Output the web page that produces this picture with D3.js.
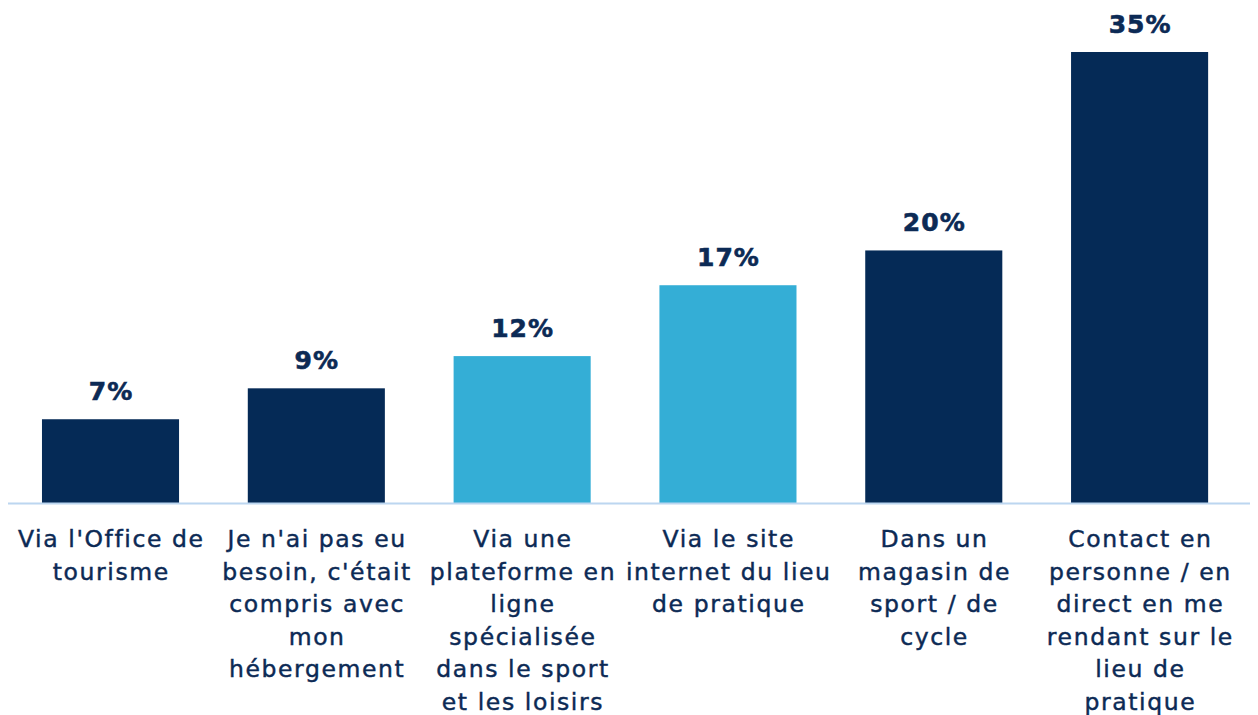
<!DOCTYPE html>
<html><head><meta charset="utf-8">
<script src="https://cdn.jsdelivr.net/npm/d3@7"></script>
<style>body{margin:0;background:#fff}svg{display:block}</style>
</head><body>
<svg id="c" width="1258" height="715"></svg>
<script>
const categories = [
  ["Via l'Office de","tourisme"],
  ["Je n'ai pas eu","besoin, c'était","compris avec","mon","hébergement"],
  ["Via une","plateforme en","ligne","spécialisée","dans le sport","et les loisirs"],
  ["Via le site","internet du lieu","de pratique"],
  ["Dans un","magasin de","sport / de","cycle"],
  ["Contact en","personne / en","direct en me","rendant sur le","lieu de","pratique"]
];
const values = [6.5, 8.9, 11.4, 16.9, 19.6, 35.0];
const valueLabels = ["7%","9%","12%","17%","20%","35%"];
const highlight = [false, false, true, true, false, false];

const svg = d3.select("#c");
const baseY = 503;
const x = d3.scaleBand().domain(d3.range(categories.length)).range([7.6, 1242.5]).paddingInner(0.334).paddingOuter(0.167);
const y = d3.scaleLinear().domain([0, 35]).range([baseY, 52]);
const font = "'DejaVu Sans', sans-serif";
const navy = "#052a56", light = "#34aed6", textC = "#0c2a55";

svg.selectAll("rect.bar").data(values).join("rect")
  .attr("x", (d,i)=>x(i)).attr("width", x.bandwidth())
  .attr("y", d=>y(d)).attr("height", d=>baseY - y(d))
  .attr("fill", (d,i)=>highlight[i] ? light : navy);

svg.append("line").attr("x1", 8).attr("x2", 1250).attr("y1", baseY+0.5).attr("y2", baseY+0.5)
  .attr("stroke", "#bcd6f0").attr("stroke-width", 2);

svg.selectAll("text.val").data(values).join("text")
  .attr("x", (d,i)=>x(i)+x.bandwidth()/2 + 0.5).attr("y", d=>y(d)-19)
  .attr("text-anchor","middle").attr("font-family", font).attr("font-weight","bold")
  .attr("font-size", 25).attr("letter-spacing", 1).attr("fill", textC)
  .attr("stroke", textC).attr("stroke-width", 0.6)
  .text((d,i)=>valueLabels[i]);

const g = svg.selectAll("text.cat").data(categories).join("text")
  .attr("text-anchor","middle").attr("font-family", font).attr("font-size", 23.5)
  .attr("letter-spacing", 1.6).attr("fill", textC).attr("stroke", textC).attr("stroke-width", 0.45);
g.each(function(lines,i){
  d3.select(this).selectAll("tspan").data(lines).join("tspan")
    .attr("x", x(i)+x.bandwidth()/2 + 0.8).attr("y", (l,j)=>547 + j*32.5).text(l=>l);
});
</script>
</body></html>
